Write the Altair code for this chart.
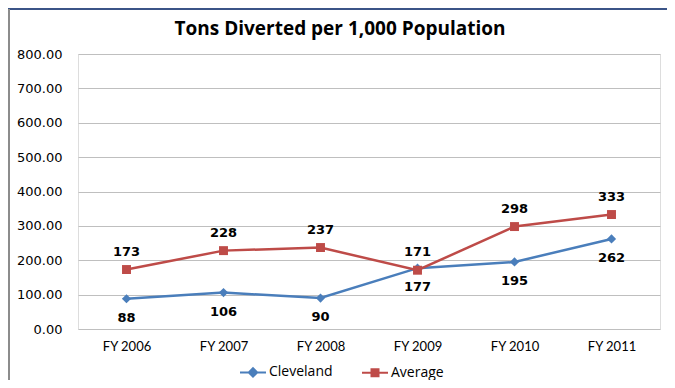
import altair as alt
import pandas as pd

title_text = "Tons Diverted per 1,000 Population"
years = ["FY 2006", "FY 2007", "FY 2008", "FY 2009", "FY 2010", "FY 2011"]
cleveland = [88, 106, 90, 177, 195, 262]
average = [173, 228, 237, 171, 298, 333]
series_names = ["Cleveland", "Average"]
series_colors = ["#4A7EBB", "#BE4B48"]
y_ticks = [0, 100, 200, 300, 400, 500, 600, 700, 800]

rows = []
for y, c, a in zip(years, cleveland, average):
    rows.append({"year": y, "series": "Cleveland", "value": c})
    rows.append({"year": y, "series": "Average", "value": a})
df = pd.DataFrame(rows)

W, H = 582, 275

x_enc = alt.X("year:N", sort=years, scale=alt.Scale(type="point", padding=0.5),
              axis=alt.Axis(title=None, domain=False, ticks=False, grid=False,
                            labelFont="Lato", labelFontSize=13, labelColor="#000000",
                            labelPadding=11, labelAngle=0))
y_enc = alt.Y("value:Q", scale=alt.Scale(domain=[0, 800], nice=False),
              axis=alt.Axis(title=None, values=y_ticks, format=".2f", domain=False, ticks=False,
                            labelFont="DejaVu Sans", labelFontSize=13, labelColor="#000000",
                            labelPadding=16, gridColor="#BFBFBF", gridWidth=1))
cscale = alt.Scale(domain=series_names, range=series_colors)

base = alt.Chart(df).encode(x=x_enc, y=y_enc)

cle = base.transform_filter(alt.datum.series == "Cleveland")
avg = base.transform_filter(alt.datum.series == "Average")

line_cle = cle.mark_line(strokeWidth=2.5, color=series_colors[0])
line_avg = avg.mark_line(strokeWidth=2.5, color=series_colors[1])

pts_cle = cle.mark_point(filled=True, opacity=1, size=85, shape="diamond", color=series_colors[0])
pts_avg = avg.mark_point(filled=True, opacity=1, size=80, shape="square", color=series_colors[1])

diamond_path = "M-1.3,0L1.3,0M0,-0.42L0.42,0L0,0.42L-0.42,0Z"
square_path = "M-1.3,0L1.3,0M-0.35,-0.35L0.35,-0.35L0.35,0.35L-0.35,0.35Z"

legend_layer = alt.Chart(df).transform_filter(alt.datum.value < 0).mark_point(
    filled=True, opacity=1, strokeWidth=2).encode(
    x=x_enc, y=y_enc,
    color=alt.Color("series:N", scale=cscale,
                    legend=alt.Legend(
                        title=None, orient="none", direction="horizontal",
                        legendX=164, legendY=307,
                        labelFont="Open Sans", labelFontSize=14, labelColor="#000000",
                        symbolSize=400, labelOffset=5, columnPadding=25,
                        symbolStrokeWidth=2)),
    stroke=alt.Stroke("series:N", scale=cscale),
    shape=alt.Shape("series:N", scale=alt.Scale(domain=series_names, range=[diamond_path, square_path])),
)

lbl_cle = cle.mark_text(
    dy=19, font="DejaVu Sans", fontSize=13, fontWeight="bold", color="#000000"
).encode(text=alt.Text("value:Q", format="d"))
lbl_avg = avg.mark_text(
    dy=-18, font="DejaVu Sans", fontSize=13, fontWeight="bold", color="#000000"
).encode(text=alt.Text("value:Q", format="d"))

title_mark = alt.Chart(pd.DataFrame({"t": [title_text]})).mark_text(
    font="Open Sans", fontSize=19, fontWeight="bold", color="#000000", align="center", baseline="middle"
).encode(text="t:N", x=alt.value(262), y=alt.value(-25))

top_border = alt.Chart(pd.DataFrame({"k": [0]})).mark_rule(color="#3B5487", strokeWidth=2).encode(
    x=alt.value(-78), x2=alt.value(W + 20), y=alt.value(-45))
left_border = alt.Chart(pd.DataFrame({"k": [0]})).mark_rule(color="#8C8C8C", strokeWidth=2).encode(
    x=alt.value(-69), y=alt.value(-45), y2=alt.value(H + 60))

chart = alt.layer(line_cle, line_avg, pts_cle, pts_avg, legend_layer, lbl_cle, lbl_avg,
                  title_mark, top_border, left_border).properties(
    width=W, height=H,
    autosize=alt.AutoSizeParams(type="none"),
    padding={"left": 70, "top": 46, "right": 7, "bottom": 51},
).configure_view(stroke=None).configure(background="#FFFFFF")

chart.save("out.html", embed_options={"renderer": "svg", "actions": False})
